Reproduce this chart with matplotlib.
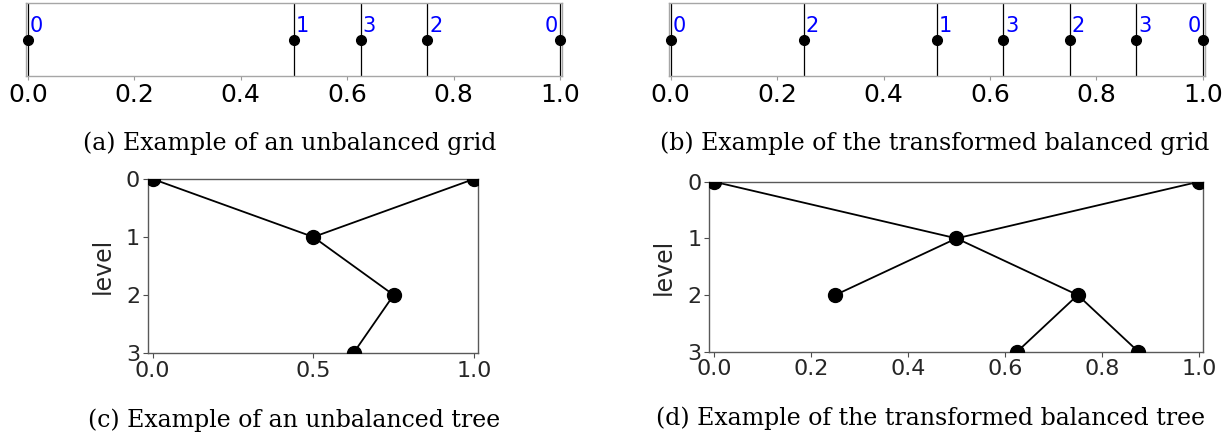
import matplotlib
matplotlib.use("Agg")
import matplotlib.pyplot as plt

# ---- data ----
grid_a_pos = [0.0, 0.5, 0.625, 0.75, 1.0]
grid_a_lvl = [0, 1, 3, 2, 0]
grid_b_pos = [0.0, 0.25, 0.5, 0.625, 0.75, 0.875, 1.0]
grid_b_lvl = [0, 2, 1, 3, 2, 3, 0]

# tree c: nodes (x, level) and edges (index pairs)
tree_c_x = [0.0, 1.0, 0.5, 0.75, 0.625]
tree_c_lvl = [0, 0, 1, 2, 3]
tree_c_edges = [(0, 2), (1, 2), (2, 3), (3, 4)]

tree_d_x = [0.0, 1.0, 0.5, 0.25, 0.75, 0.625, 0.875]
tree_d_lvl = [0, 0, 1, 2, 2, 3, 3]
tree_d_edges = [(0, 2), (1, 2), (2, 3), (2, 4), (4, 5), (4, 6)]

grid_ticks = [0.0, 0.2, 0.4, 0.6, 0.8, 1.0]
tree_c_xticks = [0.0, 0.5, 1.0]
tree_d_xticks = [0.0, 0.2, 0.4, 0.6, 0.8, 1.0]
levels = [0, 1, 2, 3]

captions = ["(a) Example of an unbalanced grid",
            "(b) Example of the transformed balanced grid",
            "(c) Example of an unbalanced tree",
            "(d) Example of the transformed balanced tree"]

W, H = 1232, 445
fig = plt.figure(figsize=(W / 100, H / 100), dpi=100)


def ax_px(l, t, r, b):
    return fig.add_axes([l / W, 1 - b / H, (r - l) / W, (b - t) / H])


def grid_panel(ax, pos, lvl):
    for p in pos:
        ax.axvline(p, color='black', lw=0.9, zorder=1)
    ax.plot(pos, [0] * len(pos), 'o', color='black', ms=7, zorder=3, clip_on=False)
    for i, (p, l) in enumerate(zip(pos, lvl)):
        if i == len(pos) - 1:
            ax.text(p - 0.004, 0.011, str(l), color='blue', fontsize=15,
                    ha='right', va='baseline')
        else:
            ax.text(p + 0.004, 0.011, str(l), color='blue', fontsize=15,
                    ha='left', va='baseline')
    ax.set_xlim(-0.004, 1.004)
    ax.set_ylim(-0.05, 0.05)
    ax.set_yticks([])
    ax.set_xticks(grid_ticks)
    ax.set_xticklabels([f"{t:.1f}" for t in grid_ticks])
    ax.tick_params(axis='x', labelsize=18, length=3, color='0.6', pad=2)
    for s in ax.spines.values():
        s.set_color('0.65')
        s.set_linewidth(1.0)


def tree_panel(ax, xs, lv, edges, xticks, xlim):
    for a, b in edges:
        ax.plot([xs[a], xs[b]], [lv[a], lv[b]], color='black', lw=1.3, zorder=2)
    ax.plot(xs, lv, 'o', color='black', ms=10, zorder=3, linestyle='none')
    ax.set_xlim(*xlim)
    ax.set_ylim(3, 0)
    ax.set_yticks(levels)
    ax.set_xticks(xticks)
    ax.set_xticklabels([f"{t:.1f}" for t in xticks])
    ax.tick_params(labelsize=16, length=3.5, color='0.3', labelcolor='#262626', pad=2)
    ax.set_ylabel('level', fontsize=17, color='#262626', labelpad=8)
    for s in ax.spines.values():
        s.set_color('0.35')
        s.set_linewidth(1.0)


ax_a = ax_px(25.7, 3.3, 562.3, 76)
grid_panel(ax_a, grid_a_pos, grid_a_lvl)
ax_b = ax_px(668.5, 3.3, 1205, 76)
grid_panel(ax_b, grid_b_pos, grid_b_lvl)

ax_c = ax_px(147.7, 179, 478, 353)
tree_panel(ax_c, tree_c_x, tree_c_lvl, tree_c_edges, tree_c_xticks, (-0.0156, 1.0124))
ax_d = ax_px(709, 181.7, 1203.3, 351.7)
tree_panel(ax_d, tree_d_x, tree_d_lvl, tree_d_edges, tree_d_xticks, (-0.0103, 1.0089))

cap_font = dict(fontsize=17, family='DejaVu Serif', ha='center', va='center')
fig.text(290 / W, 1 - 143 / H, captions[0], **cap_font)
fig.text(935 / W, 1 - 143 / H, captions[1], **cap_font)
fig.text(294 / W, 1 - 420 / H, captions[2], **cap_font)
fig.text(931 / W, 1 - 418 / H, captions[3], **cap_font)

fig.savefig('out.png', dpi=100)
